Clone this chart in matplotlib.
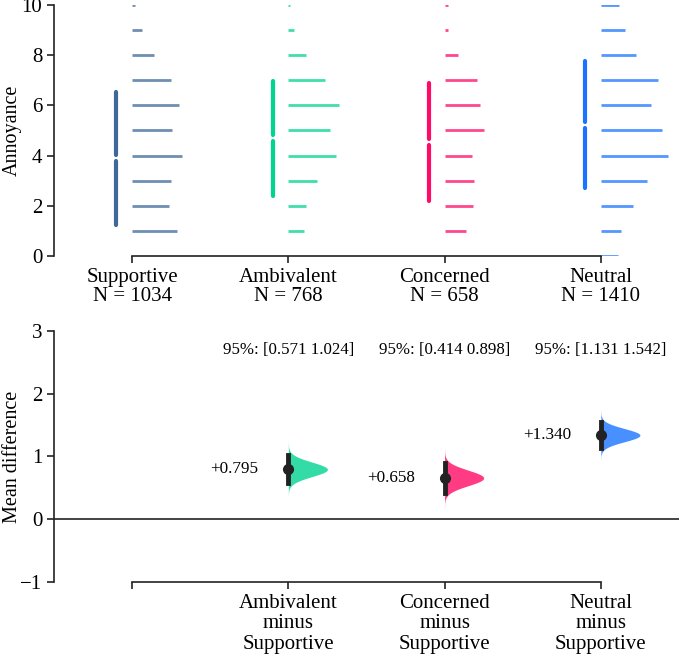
import numpy as np
import matplotlib
matplotlib.use("Agg")
import matplotlib.pyplot as plt

plt.rcParams['font.family'] = ['Liberation Serif', 'DejaVu Serif']

groups = ['Supportive', 'Ambivalent', 'Concerned', 'Neutral']
n_obs = [1034, 768, 658, 1410]
colors = ['#3d6899', '#00d491', '#ff0a66', '#1a74ff']

# annoyance score levels and how many answers sit at each level
levels = np.arange(0, 11)
counts = {
    'Supportive': [0, 140, 115, 121, 155, 124, 146, 121, 68, 31, 8],
    'Ambivalent': [0, 47, 56, 90, 146, 130, 158, 112, 56, 19, 5],
    'Concerned': [0, 65, 87, 90, 84, 121, 109, 99, 43, 10, 12],
    'Neutral': [53, 62, 99, 143, 208, 189, 155, 177, 109, 74, 56],
}
group_mean = [3.89, 4.685, 4.55, 5.23]
group_sd = [2.65, 2.30, 2.35, 2.54]

# mean differences against Supportive
diff_labels = ['', 'Ambivalent\nminus\nSupportive', 'Concerned\nminus\nSupportive',
               'Neutral\nminus\nSupportive']
diff_mean = [0.795, 0.658, 1.340]
ci_low = [0.571, 0.414, 1.131]
ci_high = [1.024, 0.898, 1.542]

count_scale = 1 / (3.1 * 156)   # counts -> x data units
fs = 15


def style_axes(ax, ylabel):
    ax.tick_params(labelsize=fs, length=5, width=1.2, color='#222222')
    ax.set_ylabel(ylabel, fontsize=14.5)
    ax.yaxis.set_label_coords(-0.066, 0.5)
    ax.yaxis.label.set_verticalalignment('center')
    ax.spines['top'].set_visible(False)
    ax.spines['right'].set_visible(False)
    ax.spines['bottom'].set_bounds(0, 3)
    for sp in ['left', 'bottom']:
        ax.spines[sp].set_linewidth(1.2)
        ax.spines[sp].set_color('#222222')


fig = plt.figure(figsize=(6.85, 6.55), dpi=100)
ax1 = fig.add_axes([0.0788, 0.6092, 0.9124, 0.3832])
ax2 = fig.add_axes([0.0788, 0.1115, 0.9124, 0.3832])

# --- top: raw data ---
for i, g in enumerate(groups):
    c = np.array(counts[g])
    for lv, n in zip(levels, c):
        if n > 0:
            ax1.hlines(lv, i, i + n * count_scale, color=colors[i], alpha=0.75, lw=2)
    m, s = group_mean[i], group_sd[i]
    gap = 0.12
    xg = i - 0.1
    ax1.plot([xg, xg], [m - s, m - gap], color=colors[i], lw=3, solid_capstyle='round')
    ax1.plot([xg, xg], [m + gap, m + s], color=colors[i], lw=3, solid_capstyle='round')

ax1.set_xlim(-0.5, 3.5)
ax1.set_ylim(0, 10)
ax1.set_xticks(range(4))
ax1.set_xticklabels([f'{g}\nN = {n}' for g, n in zip(groups, n_obs)], fontsize=fs,
                    linespacing=1.05)
ax1.set_yticks(range(0, 11, 2))
style_axes(ax1, 'Annoyance')

# --- bottom: mean differences ---
for k in range(3):
    i = k + 1
    mu = diff_mean[k]
    sd = (ci_high[k] - ci_low[k]) / 3.92
    yy = np.linspace(mu - 3.8 * sd, mu + 3.8 * sd, 200)
    dens = np.exp(-0.5 * ((yy - mu) / sd) ** 2)
    ax2.fill_betweenx(yy, i, i + 0.25 * dens, color=colors[i], alpha=0.8, lw=0)
    ax2.plot([i, i], [ci_low[k], ci_high[k]], color='#222222', lw=3.5)
    ax2.plot(i, mu, 'o', color='#222222', ms=7)
    ax2.text(i - 0.19, mu, f'+{mu:.3f}', ha='right', va='center', fontsize=12.3)
    ax2.text(i, 2.7, f'95%: [{ci_low[k]:.3f} {ci_high[k]:.3f}]', ha='center',
             va='center', fontsize=12.2)

ax2.axhline(0, color='#222222', lw=1.2)
ax2.set_xlim(-0.5, 3.5)
ax2.set_ylim(-1, 3)
ax2.set_xticks(range(4))
ax2.set_xticklabels(diff_labels, fontsize=fs, linespacing=1.1)
ax2.set_yticks(range(-1, 4))
ax2.set_yticklabels(['\u22121', '0', '1', '2', '3'])
style_axes(ax2, 'Mean difference')

fig.savefig('out.png', dpi=100)
